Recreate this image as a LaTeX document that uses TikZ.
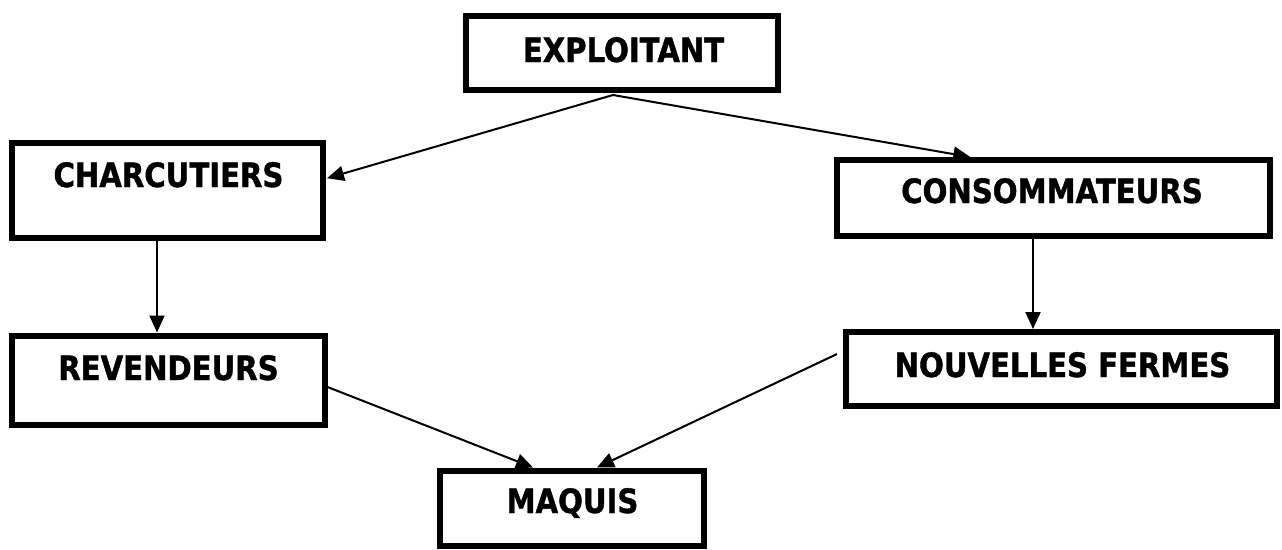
\documentclass[tikz,border=0pt]{standalone}
\usepackage{fontspec}
\setmainfont{DejaVu Sans}[FakeStretch=0.87,BoldFeatures={FakeBold=1.2}]
\usetikzlibrary{arrows.meta,calc}
\begin{document}
\begin{tikzpicture}[x=1pt,y=-1pt,
  box/.style={draw=black,line width=6pt,rectangle,inner sep=0pt,outer sep=3pt},
  lbl/.style={anchor=base,inner sep=0pt,font=\fontsize{33.5}{40}\selectfont\bfseries},
  conn/.style={draw=black,line width=2pt,-{Triangle[length=17pt,width=15pt]}}]
\useasboundingbox (0,0) rectangle (1282,549);
% boxes
\node[box,minimum width=312pt,minimum height=74pt] (exp) at (622,53) {};
\node[box,minimum width=311pt,minimum height=94.5pt] (charc) at (167.5,190.25) {};
\node[box,minimum width=433.5pt,minimum height=75.5pt] (cons) at (1053.25,197.75) {};
\node[box,minimum width=312.5pt,minimum height=89pt] (rev) at (168.25,380) {};
\node[box,minimum width=431pt,minimum height=74pt] (nf) at (1061.5,369) {};
\node[box,minimum width=264pt,minimum height=75.5pt] (maq) at (572.25,508.25) {};
% labels
\node[lbl] (texp) at (623.5,62) {EXPLOITANT};
\node[lbl] (tcharc) at (168.5,187) {CHARCUTIERS};
\node[lbl] (tcons) at (1052,203) {CONSOMMATEURS};
\node[lbl] (trev) at (168.5,380) {REVENDEURS};
\node[lbl] (tnf) at (1062.5,377) {NOUVELLES FERMES};
\node[lbl] (tmaq) at (572.5,513) {MAQUIS};
% connectors
\coordinate (apex) at ($(exp.south)+(-9,2)$);
\draw[conn] (apex) -- ($(charc.east)+(1,-12)$);
\draw[conn] (apex) -- ($(cons.north)+(-83,0)$);
\draw[conn] ($(charc.south)+(-10.5,0)$) -- ($(rev.north)+(-11.25,0)$);
\draw[conn] ($(cons.south)+(-20.25,0)$) -- ($(nf.north)+(-28.5,0)$);
\draw[conn] ($(rev.east)+(0,7)$) -- ($(maq.north)+(-39.25,0)$);
\draw[conn] ($(nf.west)+(-6,-15)$) -- ($(maq.north)+(24.75,0)$);
\end{tikzpicture}
\end{document}
